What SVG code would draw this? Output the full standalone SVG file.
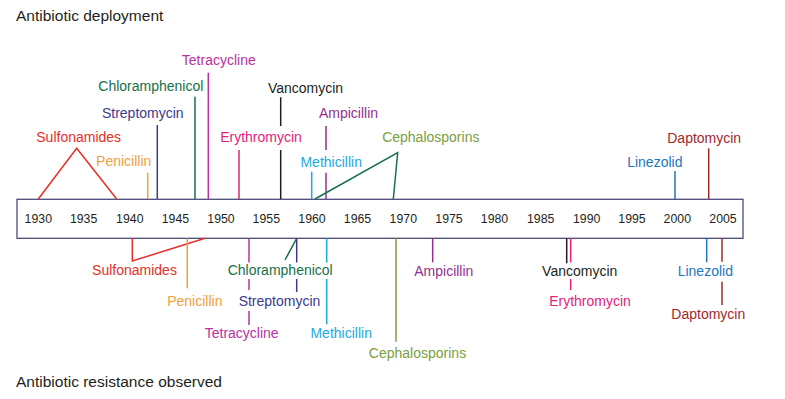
<svg xmlns="http://www.w3.org/2000/svg" width="785" height="399" viewBox="0 0 785 399">
<style>
text{font-family:"Liberation Sans",Arial,sans-serif}
.t{font-size:15.5px;fill:#231f20}
.y{font-size:12.3px;fill:#231f20;text-anchor:middle}
.l{font-size:14px;text-anchor:middle}
.c line,.c polyline{stroke-width:1.5;fill:none}
.sul{fill:#e63027;stroke:#e63027}
.pen{fill:#eea03c;stroke:#eea03c}
.str{fill:#3b3a8e;stroke:#3b3a8e}
.chl{fill:#17704a;stroke:#17704a}
.tet{fill:#b8329d;stroke:#b8329d}
.ery{fill:#e2237c;stroke:#e2237c}
.van{fill:#231f20;stroke:#231f20}
.amp{fill:#933192;stroke:#933192}
.met{fill:#1caadf;stroke:#1caadf}
.cep{fill:#7b9e3d;stroke:#7b9e3d}
.lin{fill:#1d78bd;stroke:#1d78bd}
.dap{fill:#a2282a;stroke:#a2282a}
.l{stroke:none}
</style>
<g id="title-deployment"><text class="t" x="16" y="20.7">Antibiotic deployment</text></g>
<g id="title-resistance"><text class="t" x="16" y="386.7">Antibiotic resistance observed</text></g>
<g id="timeline">
<rect x="17" y="199.3" width="726" height="39" fill="#fff" stroke="#4b4a7b" stroke-width="1.3"/>
<text class="y" x="38.3" y="223.3">1930</text>
<text class="y" x="83.6" y="223.3">1935</text>
<text class="y" x="129.8" y="223.3">1940</text>
<text class="y" x="175.4" y="223.3">1945</text>
<text class="y" x="221" y="223.3">1950</text>
<text class="y" x="266.3" y="223.3">1955</text>
<text class="y" x="312" y="223.3">1960</text>
<text class="y" x="357.5" y="223.3">1965</text>
<text class="y" x="403.3" y="223.3">1970</text>
<text class="y" x="449" y="223.3">1975</text>
<text class="y" x="494.5" y="223.3">1980</text>
<text class="y" x="540.7" y="223.3">1985</text>
<text class="y" x="586.7" y="223.3">1990</text>
<text class="y" x="632" y="223.3">1995</text>
<text class="y" x="677.3" y="223.3">2000</text>
<text class="y" x="723" y="223.3">2005</text>
</g>
<g id="connectors" class="c">
<!-- deployment -->
<polyline class="sul" points="38.3,199 76.7,148.3 116.7,199"/>
<line class="pen" x1="147.7" y1="172.7" x2="147.7" y2="199"/>
<line class="str" x1="157.3" y1="125" x2="157.3" y2="199"/>
<line class="chl" x1="195" y1="96.7" x2="195" y2="199"/>
<line class="tet" x1="208.3" y1="72.7" x2="208.3" y2="199"/>
<line class="ery" x1="239" y1="150" x2="239" y2="199"/>
<line class="van" x1="280.7" y1="97.3" x2="280.7" y2="126"/>
<line class="van" x1="280.7" y1="150" x2="280.7" y2="199"/>
<line class="amp" x1="326" y1="126" x2="326" y2="150"/>
<line class="amp" x1="326" y1="172.7" x2="326" y2="199"/>
<line class="met" x1="311.7" y1="171.7" x2="311.7" y2="199"/>
<polyline class="chl" points="315,199 397.7,152.7 393.3,199"/>
<line class="lin" x1="675" y1="171" x2="675" y2="199"/>
<line class="dap" x1="708.7" y1="148.3" x2="708.7" y2="199"/>
<!-- resistance -->
<polyline class="sul" points="132.3,238.3 132.3,261 205,238.3"/>
<line class="pen" x1="187.3" y1="238.3" x2="187.3" y2="288.3"/>
<line class="tet" x1="249" y1="238.3" x2="249" y2="262.5"/>
<line class="tet" x1="249" y1="279" x2="249" y2="290"/>
<line class="tet" x1="249" y1="311" x2="249" y2="325"/>
<line class="chl" x1="296.7" y1="238.3" x2="285" y2="260"/>
<line class="str" x1="296.7" y1="238.3" x2="296.7" y2="262.5"/>
<line class="str" x1="296.7" y1="279" x2="296.7" y2="292"/>
<line class="met" x1="326.7" y1="238.3" x2="326.7" y2="262.5"/>
<line class="met" x1="326.7" y1="279" x2="326.7" y2="324.3"/>
<line class="cep" x1="396" y1="238.3" x2="396" y2="341.7"/>
<line class="amp" x1="432.7" y1="238.3" x2="432.7" y2="262.3"/>
<line class="van" x1="566.7" y1="238.3" x2="566.7" y2="263.3"/>
<line class="ery" x1="570.7" y1="238.3" x2="570.7" y2="262.5"/>
<line class="ery" x1="570.7" y1="279" x2="570.7" y2="290"/>
<line class="lin" x1="706.7" y1="238.3" x2="706.7" y2="262.3"/>
<line class="dap" x1="722" y1="238.3" x2="722" y2="261.7"/>
<line class="dap" x1="722" y1="281.7" x2="722" y2="305"/>
</g>
<g id="dep-sulfonamides"><text class="l sul" x="78.7" y="141.7">Sulfonamides</text></g>
<g id="dep-penicillin"><text class="l pen" x="123.7" y="166">Penicillin</text></g>
<g id="dep-streptomycin"><text class="l str" x="142.8" y="118.3">Streptomycin</text></g>
<g id="dep-chloramphenicol"><text class="l chl" x="150.8" y="90.7">Chloramphenicol</text></g>
<g id="dep-tetracycline"><text class="l tet" x="218.8" y="65">Tetracycline</text></g>
<g id="dep-erythromycin"><text class="l ery" x="261" y="141.7">Erythromycin</text></g>
<g id="dep-vancomycin"><text class="l van" x="305.5" y="93.3">Vancomycin</text></g>
<g id="dep-ampicillin"><text class="l amp" x="348.5" y="117.7">Ampicillin</text></g>
<g id="dep-methicillin"><text class="l met" x="331.2" y="166.7">Methicillin</text></g>
<g id="dep-cephalosporins"><text class="l cep" x="430.8" y="141.7">Cephalosporins</text></g>
<g id="dep-linezolid"><text class="l lin" x="654.8" y="166.7">Linezolid</text></g>
<g id="dep-daptomycin"><text class="l dap" x="704.2" y="142.7">Daptomycin</text></g>
<g id="res-sulfonamides"><text class="l sul" x="134.5" y="275">Sulfonamides</text></g>
<g id="res-penicillin"><text class="l pen" x="194.8" y="306">Penicillin</text></g>
<g id="res-chloramphenicol"><text class="l chl" x="280.2" y="275">Chloramphenicol</text></g>
<g id="res-streptomycin"><text class="l str" x="279.5" y="306">Streptomycin</text></g>
<g id="res-tetracycline"><text class="l tet" x="241.7" y="338.3">Tetracycline</text></g>
<g id="res-methicillin"><text class="l met" x="341.2" y="338.3">Methicillin</text></g>
<g id="res-cephalosporins"><text class="l cep" x="417.5" y="357.7">Cephalosporins</text></g>
<g id="res-ampicillin"><text class="l amp" x="443.8" y="275.7">Ampicillin</text></g>
<g id="res-vancomycin"><text class="l van" x="579.7" y="275.7">Vancomycin</text></g>
<g id="res-erythromycin"><text class="l ery" x="590" y="306">Erythromycin</text></g>
<g id="res-linezolid"><text class="l lin" x="705.3" y="275.7">Linezolid</text></g>
<g id="res-daptomycin"><text class="l dap" x="708.3" y="319.3">Daptomycin</text></g>
</svg>
